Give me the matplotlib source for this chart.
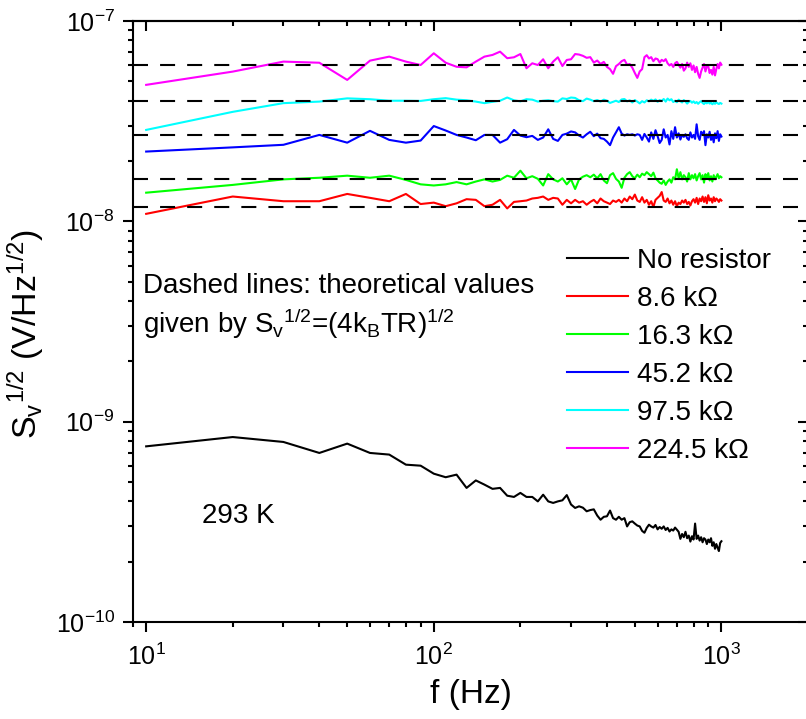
import numpy as np
import matplotlib
matplotlib.use("Agg")
import matplotlib.pyplot as plt
from matplotlib.ticker import NullFormatter

plt.rcParams['font.family'] = ['Liberation Sans', 'DejaVu Sans']
plt.rcParams['mathtext.fontset'] = 'custom'
plt.rcParams['mathtext.rm'] = 'Liberation Sans'
plt.rcParams['mathtext.it'] = 'Liberation Sans:italic'
plt.rcParams['mathtext.bf'] = 'Liberation Sans:bold'
plt.rcParams['mathtext.default'] = 'regular'

# frequency grid of the measurement (Hz)
freq = np.arange(10, 1001, 10)

# no resistor, in 1e-9 V/Hz^1/2
no_res = [0.753, 0.838, 0.792, 0.698, 0.777, 0.698, 0.685, 0.610, 0.603, 0.550,
          0.528, 0.544, 0.467, 0.509, 0.485, 0.462, 0.467, 0.427, 0.421, 0.441,
          0.421, 0.421, 0.400, 0.432, 0.400, 0.393, 0.400, 0.405, 0.430, 0.386,
          0.371, 0.378, 0.372, 0.357, 0.362, 0.365, 0.340, 0.324, 0.335, 0.337,
          0.360, 0.330, 0.324, 0.335, 0.324, 0.330, 0.300, 0.315, 0.318, 0.310,
          0.303, 0.300, 0.285, 0.279, 0.295, 0.306, 0.300, 0.296, 0.305, 0.290,
          0.298, 0.292, 0.300, 0.288, 0.295, 0.283, 0.290, 0.286, 0.296, 0.289,
          0.282, 0.260, 0.275, 0.265, 0.282, 0.262, 0.270, 0.252, 0.268, 0.258,
          0.310, 0.260, 0.270, 0.255, 0.265, 0.250, 0.262, 0.258, 0.245, 0.258,
          0.250, 0.262, 0.240, 0.250, 0.232, 0.245, 0.235, 0.226, 0.248, 0.253]

# resistors, in 1e-8 V/Hz^1/2
r_8k6 = [1.09, 1.33, 1.26, 1.26, 1.37, 1.31, 1.26, 1.37, 1.22, 1.24,
         1.19, 1.23, 1.29, 1.28, 1.19, 1.21, 1.28, 1.16, 1.25, 1.26,
         1.27, 1.30, 1.31, 1.33, 1.28, 1.31, 1.30, 1.21, 1.28, 1.23,
         1.28, 1.24, 1.26, 1.21, 1.25, 1.28, 1.23, 1.30, 1.26, 1.24,
         1.22, 1.27, 1.25, 1.28, 1.24, 1.30, 1.26, 1.33, 1.29, 1.36,
         1.27, 1.25, 1.32, 1.24, 1.28, 1.21, 1.26, 1.18, 1.28, 1.31,
         1.34, 1.40, 1.27, 1.25, 1.30, 1.23, 1.27, 1.21, 1.26, 1.19,
         1.24, 1.22, 1.27, 1.24, 1.28, 1.22, 1.25, 1.20, 1.26, 1.29,
         1.24, 1.31, 1.22, 1.30, 1.26, 1.33, 1.25, 1.32, 1.23, 1.35,
         1.27, 1.30, 1.24, 1.32, 1.26, 1.30, 1.28, 1.25, 1.29, 1.27]

r_16k3 = [1.39, 1.52, 1.62, 1.65, 1.69, 1.65, 1.69, 1.61, 1.53, 1.51,
          1.53, 1.57, 1.53, 1.58, 1.62, 1.58, 1.61, 1.69, 1.65, 1.79,
          1.64, 1.68, 1.63, 1.51, 1.72, 1.62, 1.58, 1.64, 1.53, 1.62,
          1.45, 1.62, 1.67, 1.70, 1.66, 1.71, 1.64, 1.72, 1.60, 1.55,
          1.70, 1.74, 1.63, 1.58, 1.47, 1.65, 1.72, 1.76, 1.68, 1.64,
          1.71, 1.66, 1.73, 1.70, 1.76, 1.72, 1.68, 1.75, 1.64, 1.60,
          1.56, 1.54, 1.60, 1.52, 1.58, 1.62, 1.56, 1.66, 1.62, 1.82,
          1.64, 1.76, 1.62, 1.70, 1.66, 1.58, 1.74, 1.62, 1.70, 1.64,
          1.72, 1.60, 1.68, 1.74, 1.62, 1.70, 1.56, 1.72, 1.65, 1.74,
          1.60, 1.68, 1.58, 1.70, 1.62, 1.67, 1.72, 1.64, 1.68, 1.66]

r_45k2 = [2.23, 2.34, 2.41, 2.70, 2.47, 2.83, 2.55, 2.47, 2.53, 2.99,
          2.84, 2.70, 2.62, 2.54, 2.70, 2.70, 2.47, 2.57, 2.86, 2.68,
          2.63, 2.67, 2.55, 2.62, 2.88, 2.58, 2.52, 2.70, 2.74, 2.81,
          2.78, 2.68, 2.62, 2.72, 2.80, 2.66, 2.74, 2.60, 2.58, 2.50,
          2.40, 2.62, 2.78, 2.95, 2.74, 2.68, 2.72, 2.70, 2.72, 2.68,
          2.72, 2.70, 2.55, 2.73, 2.62, 2.50, 2.78, 2.58, 2.85, 2.66,
          2.46, 2.55, 2.88, 2.62, 2.70, 2.42, 2.82, 2.58, 2.95, 2.62,
          2.75, 2.56, 2.70, 2.64, 2.72, 2.60, 2.55, 2.78, 2.62, 2.70,
          2.58, 3.05, 2.66, 2.55, 2.80, 2.70, 2.82, 2.40, 2.72, 2.62,
          2.80, 2.55, 2.70, 2.48, 2.75, 2.60, 2.82, 2.52, 2.72, 2.65]

r_97k5 = [2.86, 3.52, 3.89, 3.96, 4.11, 4.07, 4.00, 4.00, 3.99, 4.07,
          4.12, 4.05, 4.02, 3.96, 3.89, 3.95, 4.00, 4.15, 4.02, 3.97,
          4.07, 4.05, 3.96, 4.00, 4.02, 3.98, 3.96, 4.11, 4.08, 4.15,
          4.13, 4.02, 3.98, 4.10, 4.05, 3.98, 4.03, 3.96, 4.05, 4.00,
          3.90, 3.95, 4.00, 3.94, 4.06, 4.08, 3.97, 4.02, 3.92, 4.03,
          3.96, 3.88, 3.98, 3.92, 4.02, 3.97, 4.05, 3.99, 4.06, 3.95,
          4.03, 3.99, 4.08, 3.96, 4.10, 4.02, 4.07, 3.94, 4.00, 3.93,
          4.05, 3.98, 3.92, 4.03, 3.96, 3.87, 3.95, 3.99, 3.91, 3.97,
          3.89, 3.94, 3.86, 3.93, 3.98, 3.90, 3.85, 3.92, 3.88, 3.95,
          3.87, 3.91, 3.84, 3.90, 3.86, 3.93, 3.88, 3.85, 3.90, 3.87]

r_224k5 = [4.80, 5.59, 6.27, 6.19, 5.08, 6.34, 6.64, 6.27, 6.03, 6.90,
           6.19, 5.91, 5.87, 6.27, 6.64, 6.77, 7.03, 6.52, 6.59, 6.84,
           5.81, 6.15, 6.03, 6.44, 5.81, 6.27, 6.59, 5.96, 6.39, 6.44,
           6.84, 6.80, 6.70, 6.55, 6.60, 6.20, 6.35, 6.10, 6.25, 5.90,
           5.75, 5.45, 5.95, 6.10, 6.30, 6.40, 6.05, 6.10, 5.85, 5.50,
           5.20, 5.60, 5.75, 6.60, 6.75, 6.50, 6.60, 6.30, 6.50, 6.45,
           6.20, 6.40, 6.30, 6.45, 6.15, 6.00, 6.10, 5.90, 6.15, 6.25,
           6.05, 5.85, 6.10, 5.65, 5.80, 6.20, 5.90, 6.15, 5.70, 6.00,
           5.55, 5.90, 5.45, 5.20, 5.60, 5.85, 6.10, 5.60, 5.95, 5.95,
           5.50, 5.70, 5.40, 5.90, 5.35, 5.75, 6.10, 5.80, 6.20, 6.05]

labels = ["8.6 k\u03a9", "16.3 k\u03a9", "45.2 k\u03a9", "97.5 k\u03a9", "224.5 k\u03a9"]
colors = ["#ff0000", "#00ff00", "#0000ff", "#00ffff", "#ff00ff"]
# theoretical (4 kB T R)^1/2 at 293 K, V/Hz^1/2
theory = [1.18e-8, 1.62e-8, 2.70e-8, 3.97e-8, 6.03e-8]

fig = plt.figure(figsize=(8.06, 7.19), dpi=100)
ax = fig.add_axes([133/806, 97/719, 675/806, 601/719])

ax.plot(freq, np.array(no_res) * 1e-9, color="black", lw=1.5, label="No resistor")
for vals, lab, c in zip([r_8k6, r_16k3, r_45k2, r_97k5, r_224k5], labels, colors):
    ax.plot(freq, np.array(vals) * 1e-8, color=c, lw=1.5, label=lab)

for t in theory:
    ax.axhline(t, color="black", lw=1.5, ls=(0, (7.2, 5.8)), zorder=3)

ax.set_xscale("log")
ax.set_yscale("log")
ax.set_xlim(9, 2000)
ax.set_ylim(1e-10, 1e-7)

for s in ax.spines.values():
    s.set_linewidth(1.5)
ax.tick_params(which="both", direction="out", width=1.5, labelsize=18, pad=6)
ax.tick_params(which="major", length=7.2)
ax.tick_params(which="minor", length=3.6)
ax.tick_params(axis="x", pad=8)

top = ax.secondary_xaxis("top")
top.tick_params(which="both", direction="in", width=1.5)
top.tick_params(which="major", length=7.2)
top.tick_params(which="minor", length=3.6)
top.xaxis.set_major_formatter(NullFormatter())
top.xaxis.set_minor_formatter(NullFormatter())
top.spines["top"].set_linewidth(1.5)

right = ax.secondary_yaxis("right")
right.tick_params(which="both", direction="in", width=1.5)
right.tick_params(which="major", length=7.2)
right.tick_params(which="minor", length=3.6)
right.yaxis.set_major_formatter(NullFormatter())
right.yaxis.set_minor_formatter(NullFormatter())

ax.set_xlabel("f (Hz)", fontsize=24, labelpad=6.5)
ax.set_ylabel(r"S$_{v}{}^{1/2}$ (V/Hz$^{1/2}$)", fontsize=24.5)
ax.yaxis.set_label_coords(-0.129, 0.48)

ax.text(0.015, 0.547, "Dashed lines: theoretical values", transform=ax.transAxes,
        fontsize=20, va="baseline")
ax.text(0.015, 0.481, r"given by S$_{v}{}^{1/2}$=(4k$_{B}$TR)$^{1/2}$", transform=ax.transAxes,
        fontsize=20, va="baseline")
ax.text(0.1015, 0.165, "293 K", transform=ax.transAxes, fontsize=20, va="baseline")

ax.legend(loc="upper left", bbox_to_anchor=(0.643, 0.622), frameon=False, fontsize=20,
          handlelength=2.2, handletextpad=0.32, labelspacing=0.43,
          borderpad=0, borderaxespad=0)

fig.savefig("out.png", dpi=100)
